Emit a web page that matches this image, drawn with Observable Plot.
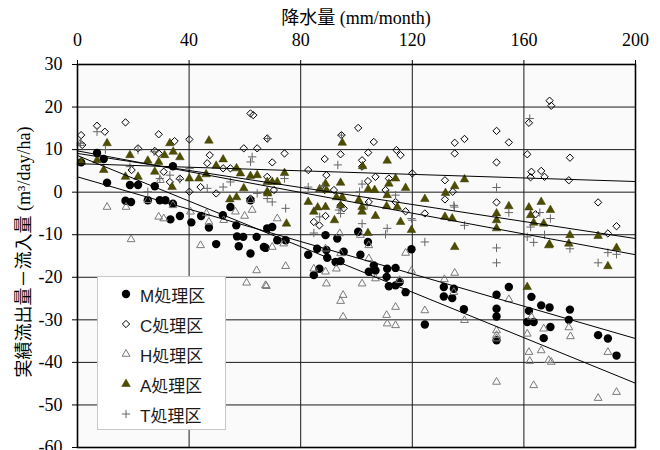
<!DOCTYPE html>
<html><head><meta charset="utf-8">
<script src="https://cdn.jsdelivr.net/npm/d3@7"></script>
<script src="https://cdn.jsdelivr.net/npm/@observablehq/plot@0.6"></script>
<style>
body{margin:0;background:#fff;}
#wrap{position:relative;width:660px;height:450px;overflow:hidden;}
.ttl{position:absolute;font-family:'Liberation Serif','Noto Sans CJK JP',serif;font-size:18px;color:#000;white-space:nowrap;line-height:1;}
#legend{position:absolute;left:97px;top:276px;width:127px;height:152px;background:#fff;border:1px solid #c8c8c8;font-family:'Liberation Sans','Noto Sans CJK JP',sans-serif;font-size:17px;color:#1a1a1a;}
.row{position:absolute;left:0;height:20px;display:flex;align-items:center;}
.row svg{margin-left:20px;margin-right:6px;}
</style></head><body><div id="wrap"></div>
<script>
// ---- data ----
const precipTicks = [0, 40, 80, 120, 160, 200];
const flowTicks = [30, 20, 10, 0, -10, -20, -30, -40, -50, -60];
const seriesNames = ["M処理区", "C処理区", "H処理区", "A処理区", "T処理区"];
// regression lines (intercept, slope)
const intercepts = [3.6, 6.7, 8.6, 9.1, 9.7];
const slopes = [-0.19, -0.021, -0.2675, -0.10, -0.122];

const mPts = [[1.3,7.0],[7.0,9.2],[9.4,7.8],[10.6,2.2],[18.8,1.7],[21.7,1.7],[27.7,1.4],[34.2,6.1],[17.2,-2.0],[19.2,-2.3],[25.2,-1.9],[29.5,-1.9],[31.5,-1.9],[34.2,-2.7],[36.7,-5.6],[33.3,-6.4],[40.8,-7.1],[44.3,-5.6],[47.1,-8.3],[52.1,-5.4],[54.8,-3.5],[56.9,-7.8],[57.2,-10.4],[59.4,-10.5],[64.2,-10.5],[68.0,-8.5],[49.7,-12.2],[57.8,-12.7],[66.8,-12.9],[62,-1.9],[62,-14.4],[69.8,-8.2],[67.4,-13.1],[71.6,-11.3],[74.6,-11.3],[82.7,-14.7],[85.9,-13.3],[86.7,-18.0],[84.7,-19.5],[88.9,-10.1],[89.2,-13.6],[89.5,-15.4],[93.1,-10.9],[92.5,-16.4],[95.4,-14.0],[94.3,-16.2],[100.6,-9.3],[101.4,-14.7],[104.1,-11.7],[104.4,-18.7],[106.2,-17.2],[106.8,-18.4],[111.0,-18.0],[110.8,-19.9],[111.6,-22.1],[114.0,-17.8],[114.0,-21.9],[115.5,-21.1],[117.6,-23.5],[119.7,-13.4],[124.5,-31.1],[131.3,-22.3],[134.9,-22.7],[131.3,-24.5],[134.3,-24.9],[138.5,-27.5],[150.2,-24.1],[154.6,-22.3],[150.2,-27.4],[150.2,-29.2],[150.2,-34.8],[162.7,-24.6],[161.8,-27.9],[161.2,-30.5],[163.5,-30.5],[166.2,-26.6],[169.2,-27.1],[169.5,-31.7],[167.1,-34.3],[176.5,-27.6],[176.1,-30.0],[186.6,-33.6],[190.1,-34.4],[193.2,-38.4]];
const cPts = [[1.3,13.4],[7.0,15.6],[9.8,14.2],[17.2,16.4],[29.1,13.6],[34.8,12.0],[40.1,12.4],[21.7,10.3],[27.7,9.7],[29.1,9.1],[1.7,11.1],[47.4,8.7],[46.5,6.8],[19.4,5.2],[30.9,4.8],[33.1,2.4],[36.7,3.2],[40.1,0.1],[44.1,1.2],[49.7,-0.3],[52.2,5.6],[54.8,5.6],[59.6,10.3],[64.4,10.3],[68,12.6],[62,18.5],[63,18.1],[68,3.6],[62,-1.5],[69.8,7.0],[74.2,9.1],[82.7,5.2],[88.6,7.8],[94.3,8.9],[94.6,13.4],[100.6,15.1],[106.2,11.8],[104.2,9.3],[102,7.5],[102,6.0],[89.2,4.0],[104.1,2.6],[106.8,3.6],[111.6,3.2],[114.3,9.9],[115.8,8.7],[120,4.4],[110.4,0.5],[104.4,-2.3],[114,-2.3],[117.6,-4.5],[124.5,-5.0],[131.7,2.8],[134.5,0.1],[135.2,11.6],[135.2,9.1],[131.7,-1.7],[84.7,-7.0],[86.7,-7.8],[88.9,-5.6],[94.3,-3.1],[95.4,-3.8],[88.6,0.5],[91.9,0.5],[70.4,0.5],[138.7,12.5],[150.2,14.4],[154.6,11.7],[150.2,7.0],[150.2,-2.4],[161.8,16.3],[161.2,8.9],[162.7,4.8],[162.4,3.5],[166.2,5.0],[167.4,3.6],[169.2,21.5],[169.8,20.3],[176.5,8.1],[176.1,2.8],[164.2,-5.2],[186.6,-2.4],[190.1,-9.7],[193.2,-8.0]];
const hPts = [[10.6,-3.5],[17.4,-3.5],[19.2,-11.1],[29.1,-5.8],[30.9,-6.2],[25.2,-1.9],[34.2,-3.1],[40.5,-4.6],[44.1,-12.5],[46.2,-5.0],[47.1,-7.0],[52.4,-6.6],[56.6,-4.6],[59.9,-5.6],[62.6,-4.2],[62,-1.9],[29.7,2.8],[1.1,11.5],[64.2,-18.4],[60.6,-21.3],[67.4,-21.9],[71.6,-6.2],[69.8,-12.9],[73.9,-12.1],[67.7,-22.1],[74.6,-17.4],[84.7,-18.0],[88.9,-18.7],[89.2,-21.5],[88.9,-13.3],[94,-9.7],[94.3,-14.4],[92.8,-18],[95.2,-24.2],[94.3,-25.6],[95.2,-29.3],[101.4,-10.1],[102,-21.5],[104.4,-12.5],[104.4,-15.6],[106.8,-20.3],[110.8,-28.9],[111,-30.9],[114,-27.0],[114,-31.3],[115.5,-20.7],[117.6,-14.3],[119.7,-18.5],[124.5,-27.8],[131.5,-20.5],[135.2,-19],[134.9,-23.5],[138.7,-30.1],[154.6,-25.2],[150.2,-32.5],[150.2,-33.6],[150.2,-34.4],[150.2,-44.6],[162.7,-29.3],[161.2,-33.3],[161.8,-37.6],[162.1,-39.7],[163.5,-45.4],[167.1,-32.1],[166.2,-37.2],[168.9,-39.5],[169.8,-39.9],[176.1,-31.8],[176.7,-33.9],[190.1,-37.6],[186.6,-48.4],[193.2,-47.0]];
const aPts = [[1.3,7.1],[7.0,7.5],[10.6,11.5],[9.4,5.2],[17.2,3.6],[18.8,8.7],[21.7,3.6],[25.2,7.4],[29.1,7.1],[27.7,4.8],[31.2,8.7],[33.1,11.5],[34.3,9.5],[36.7,8.2],[33.9,1.2],[40.1,3.2],[43.5,3.2],[46.1,4.2],[47.1,12.1],[49.7,6.2],[52.2,7.7],[57,5.6],[58.4,4.4],[62,3.8],[64.4,4.0],[59.6,0.9],[57,-1.2],[54.6,-1.7],[68,0.1],[74.2,4.5],[68,2.4],[69.8,2.4],[71.6,2.4],[68.2,-0.3],[74.9,-7.4],[82.7,-2.3],[84.7,-4.6],[86.1,-3.6],[88.9,-3.5],[86.8,0.7],[88.9,2.0],[89.2,0.5],[94.3,2.2],[94.9,11.6],[92.8,-1.2],[94.9,-1.2],[94.3,-3.1],[92.1,-6.6],[100.8,-1.9],[102,-3.5],[102,-4.6],[102.2,6.1],[104.2,0.7],[106.8,-5.6],[106.5,0.5],[111,7.4],[111.6,2.0],[111,-0.7],[110.8,-3.3],[114,3.2],[114.6,-3.5],[117.6,1.0],[115.8,-7.0],[119.7,-8.9],[124.5,-1.6],[131.9,-0.2],[131.7,-5.8],[134.3,-6.2],[135.2,-12.9],[135.2,1.4],[104.1,-9.6],[138.7,3.0],[150.2,-5.0],[150.2,-6.6],[150.2,-8.5],[154.6,-3.3],[161.8,-3.6],[162.4,-5.4],[163.5,-7.2],[166.2,-2.3],[167.1,-7.4],[169.5,-4.2],[169.2,-12.3],[176.5,-10.1],[176.1,-12.1],[186.6,-10.3],[193.2,-13.1],[161.2,-22.3],[168.9,-12.5],[190.1,-17.4]];
const tPts = [[1.1,11.5],[7,14.2],[10,10.0],[18.8,6.0],[21.7,9.9],[25.2,0.1],[27.4,9.5],[29.5,3.2],[33.1,4.0],[36.7,3.0],[40.2,5.6],[46.5,0.9],[52.2,1.2],[54.8,2.4],[62,7.1],[62.6,8.3],[64.4,-0.3],[68,-1.5],[68.2,12.6],[69.8,-2.3],[74.6,-3.8],[74.2,3.2],[82.7,1.2],[93.3,6.4],[94.6,13.4],[102,1.9],[101.1,0.1],[103.8,-3.1],[94.3,-5.0],[93.7,-4.2],[114,-0.7],[111,-8.5],[120,-6.6],[124.5,-11.7],[134.9,-3.1],[86.8,-5.8],[84.7,-9.6],[88,1.4],[135.1,-3.5],[138.7,-7.8],[150.2,1.1],[150.2,-13.1],[154.6,-4.8],[162.1,17.3],[165.7,-4.8],[169.5,-6.2],[162.4,-8.2],[161.2,-10.5],[163.5,-11.8],[167.4,-10.0],[176.5,-13.3],[190.1,-14.2],[193.2,-14.6],[150.2,-16.6],[186.6,-16.6],[110.4,-9.9],[119.7,-6.2],[102,-7.4]];

const xTitle = "降水量 (mm/month)";
const yTitle = "実績流出量－流入量 (m³/day/ha)";

// ---- styles ----
const pointsBySeries = [mPts, cPts, hPts, aPts, tPts];
const markStyles = [
  {symbol: "circle", r: 4.2, fill: "#000", stroke: "none"},
  {symbol: "diamond2", r: 3.3, fill: "none", stroke: "#000", strokeWidth: 1},
  {symbol: "triangle", r: 2.9, fill: "none", stroke: "#7a7a7a", strokeWidth: 1},
  {symbol: "triangle", r: 3.2, fill: "#4d4d00", stroke: "#3a3a00", strokeWidth: 0.5},
  {symbol: "plus", r: 2.8, fill: "none", stroke: "#666", strokeWidth: 1}
];

const dotMarks = seriesNames.map((n, i) =>
  Plot.dot(pointsBySeries[i], {x: d => d[0], y: d => d[1], ...markStyles[i]}));

const xEnds = [precipTicks[0], precipTicks[precipTicks.length - 1]];
const regLines = seriesNames.flatMap((n, i) =>
  xEnds.map(x => ({n, x, y: intercepts[i] + slopes[i] * x})));

const chart = Plot.plot({
  width: 660, height: 450,
  marginTop: 64, marginLeft: 77, marginRight: 25, marginBottom: 3,
  x: {domain: xEnds},
  y: {domain: [flowTicks[flowTicks.length - 1], flowTicks[0]]},
  style: {fontFamily: "'Liberation Serif','Noto Sans CJK JP',serif", fontSize: "18px", color: "#000", background: "transparent"},
  marks: [
    Plot.frame({fill: "#fafafa", stroke: "none"}),
    Plot.gridY(flowTicks, {stroke: "#1a1a1a", strokeOpacity: 1, strokeWidth: 1}),
    Plot.gridX(precipTicks.slice(1, -1), {stroke: "#1a1a1a", strokeOpacity: 1, strokeWidth: 1}),
    ...dotMarks,
    Plot.line(regLines, {x: "x", y: "y", z: "n", stroke: "#000", strokeWidth: 1}),
    Plot.frame({stroke: "#000", strokeWidth: 1.6}),
    Plot.axisX(precipTicks, {anchor: "top", tickSize: 5, tickPadding: 14, label: null}),
    Plot.axisY(flowTicks, {anchor: "left", tickSize: 5, tickPadding: 10, tickFormat: d => String(d), label: null})
  ]
});

const wrap = document.getElementById("wrap");
wrap.appendChild(chart);

const t1 = document.createElement("div");
t1.className = "ttl"; t1.textContent = xTitle;
t1.style.left = "356px"; t1.style.top = "18px"; t1.style.transform = "translate(-50%,-50%)";
wrap.appendChild(t1);

// rotated y title as SVG text inside the chart
d3.select(chart).append("text")
  .attr("transform", "translate(24,252) rotate(-90)")
  .attr("text-anchor", "middle")
  .attr("dominant-baseline", "central")
  .attr("fill", "#000")
  .style("font-family", "'Liberation Serif','Noto Sans CJK JP',serif")
  .style("font-size", "18px")
  .text(yTitle);

// legend
const symMap = {circle: d3.symbolCircle, diamond2: d3.symbolDiamond2, triangle: d3.symbolTriangle, plus: d3.symbolPlus};
const legend = document.createElement("div");
legend.id = "legend";
seriesNames.forEach((n, i) => {
  const s = markStyles[i];
  const row = document.createElement("div");
  row.className = "row";
  row.style.top = (7 + i * 30) + "px";
  const path = d3.symbol(symMap[s.symbol], Math.PI * s.r * s.r)();
  row.innerHTML = `<svg width="16" height="16" viewBox="-8 -8 16 16"><path d="${path}" fill="${s.fill}" stroke="${s.stroke}" stroke-width="${s.strokeWidth || 0}"/></svg><span>${n}</span>`;
  legend.appendChild(row);
});
wrap.appendChild(legend);
</script>
</body></html>
